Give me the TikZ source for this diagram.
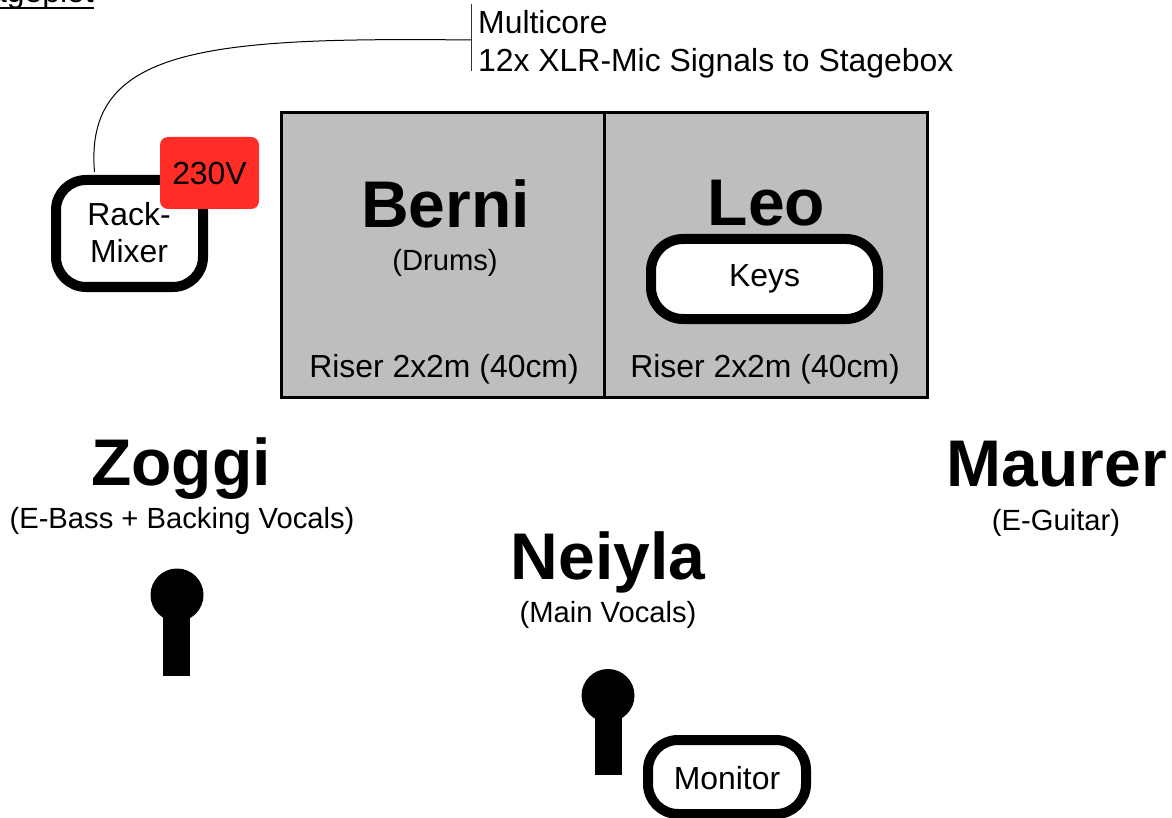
\documentclass[tikz,border=0pt]{standalone}
\usepackage{fontspec}
\setmainfont{Liberation Sans}
\definecolor{riser}{HTML}{BEBEBE}
\definecolor{power}{HTML}{FF2D25}
\definecolor{rule}{HTML}{333333}
\tikzset{
  body/.style={font=\fontsize{31.9}{36}\selectfont},
  small/.style={font=\fontsize{29.2}{33}\selectfont, anchor=base},
  big/.style={font=\fontsize{66}{70}\selectfont\bfseries, anchor=base},
  plain/.style={body, anchor=base},
  riserbox/.style={draw=black, fill=riser, line width=2.5pt, minimum height=285pt, inner sep=0pt},
  gearbox/.style={draw=black, fill=white, line width=10pt, rounded corners=30pt, inner sep=0pt, body, text depth=0pt},
  micshape/.style={fill=black, draw=none}
}
\begin{document}
\begin{tikzpicture}[x=1pt,y=-1pt]
\useasboundingbox (0,0) rectangle (1172,818);
\clip (0,0) rectangle (1172,818);
\fill[white] (0,0) rectangle (1172,818);
% clipped title
\node[plain, inner sep=0pt, anchor=base east] (title) at (94,3) {Stageplot};
\draw[black, line width=2pt] (title.west |- 0,8.5) -- (title.east |- 0,8.5);
% risers
\node[riserbox, minimum width=323.5pt] (riserA) at (443,255) {};
\node[riserbox, minimum width=323pt] (riserB) at (766,255) {};
\node[plain, inner sep=0pt] (riserAt) at (444,377.5) {Riser 2x2m (40cm)};
\node[plain, inner sep=0pt] (riserBt) at (765,377.5) {Riser 2x2m (40cm)};
\node[big, inner sep=0pt] (berni) at (445.5,228) {Berni};
\node[small, inner sep=0pt] (drums) at (445,270.5) {(Drums)};
\node[big, inner sep=0pt] (leo) at (766.5,226) {Leo};
\node[gearbox, minimum width=227pt, minimum height=80pt, rounded corners=32pt, text height=16pt] (keys) at (764.5,279) {Keys};
% rack mixer
\node[gearbox, minimum width=147pt, minimum height=107pt] (mixer) at (129.5,233.5) {};
\node[plain, inner sep=0pt] (rack) at (129,226) {Rack-};
\node[plain, inner sep=0pt] (mix) at (129,262) {Mixer};
\node[draw=none, fill=power, rounded corners=8pt, minimum width=99pt, minimum height=72pt, inner sep=0pt, body, text depth=0pt, text height=24pt] (volt) at (209.5,173) {230V};
% multicore
\coordinate (busTop) at (471,4);
\coordinate (busBot) at (471,71);
\coordinate (busMid) at (471,40);
\coordinate (mixOut) at (94.5,172);
\draw[rule, line width=1pt] (busTop) -- (busBot);
\draw[black, line width=1pt] (mixOut) .. controls (84,48) and (205,37) .. (busMid);
\node[plain, inner sep=0pt, anchor=base west] (multi) at (478,33.5) {Multicore};
\node[plain, inner sep=0pt, anchor=base west] (xlr) at (478,72) {12x XLR-Mic Signals to Stagebox};
% people
\node[big, inner sep=0pt] (zoggi) at (181,485) {Zoggi};
\node[small, inner sep=0pt] (bass) at (182,528) {(E-Bass + Backing Vocals)};
\node[big, inner sep=0pt] (neiyla) at (608,579) {Neiyla};
\node[small, inner sep=0pt] (vocals) at (608,622.5) {(Main Vocals)};
\node[big, inner sep=0pt] (maurer) at (1057,486) {Maurer};
\node[small, inner sep=0pt] (guitar) at (1056,530) {(E-Guitar)};
% mics
\fill[micshape] (177,595) circle (26.5);
\fill[micshape] (163,610) rectangle (190,676);
\fill[micshape] (608,695.5) circle (26.5);
\fill[micshape] (595,710) rectangle (622,775);
% monitor
\node[gearbox, minimum width=158pt, minimum height=74pt, text height=24pt] (monitor) at (727,777) {Monitor};
\end{tikzpicture}
\end{document}
